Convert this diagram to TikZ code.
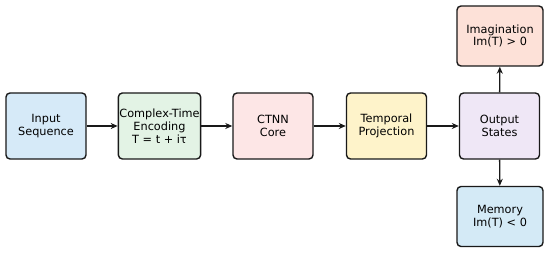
\documentclass[tikz,border=0pt]{standalone}
\usepackage{fontspec}
\setmainfont{DejaVu Sans}
\usetikzlibrary{arrows.meta}
\definecolor{cin}{HTML}{D6EAF8}
\definecolor{cenc}{HTML}{E3F3E5}
\definecolor{ccore}{HTML}{FDE6E6}
\definecolor{ctemp}{HTML}{FEF3CA}
\definecolor{cout}{HTML}{EFE7F6}
\definecolor{cimg}{HTML}{FDE1D8}
\definecolor{cmem}{HTML}{D4EAF6}
\begin{document}
\begin{tikzpicture}[x=1pt,y=-1pt,
  blk/.style={draw=black!90,line width=1.4pt,rounded corners=4pt,minimum width=80pt,minimum height=66pt,align=center,inner sep=1pt,font=\fontsize{11.3pt}{12.8pt}\selectfont},
  side/.style={blk,minimum width=86pt,minimum height=60pt},
  arr/.style={-{Stealth[length=7pt,width=6pt]},line width=1.4pt,black!90}]
\useasboundingbox (0,0) rectangle (550,253);
\node[blk,fill=cin] (in) at (46,126) {Input\\Sequence};
\node[blk,fill=cenc] (enc) at (159.5,126) {Complex-Time\\Encoding\\T = t + iτ};
\node[blk,fill=ccore] (core) at (273,126) {CTNN\\Core};
\node[blk,fill=ctemp] (temp) at (386.5,126) {Temporal\\Projection};
\node[blk,fill=cout] (out) at (499.5,126) {Output\\States};
\node[side,fill=cimg] (img) at (500,36) {Imagination\\Im(T) > 0};
\node[side,fill=cmem] (mem) at (500,216.5) {Memory\\Im(T) < 0};
\draw[arr] (in) -- (enc);
\draw[arr] (enc) -- (core);
\draw[arr] (core) -- (temp);
\draw[arr] (temp) -- (out);
\draw[arr] (out) -- (img);
\draw[arr] (out) -- (mem);
\end{tikzpicture}
\end{document}
